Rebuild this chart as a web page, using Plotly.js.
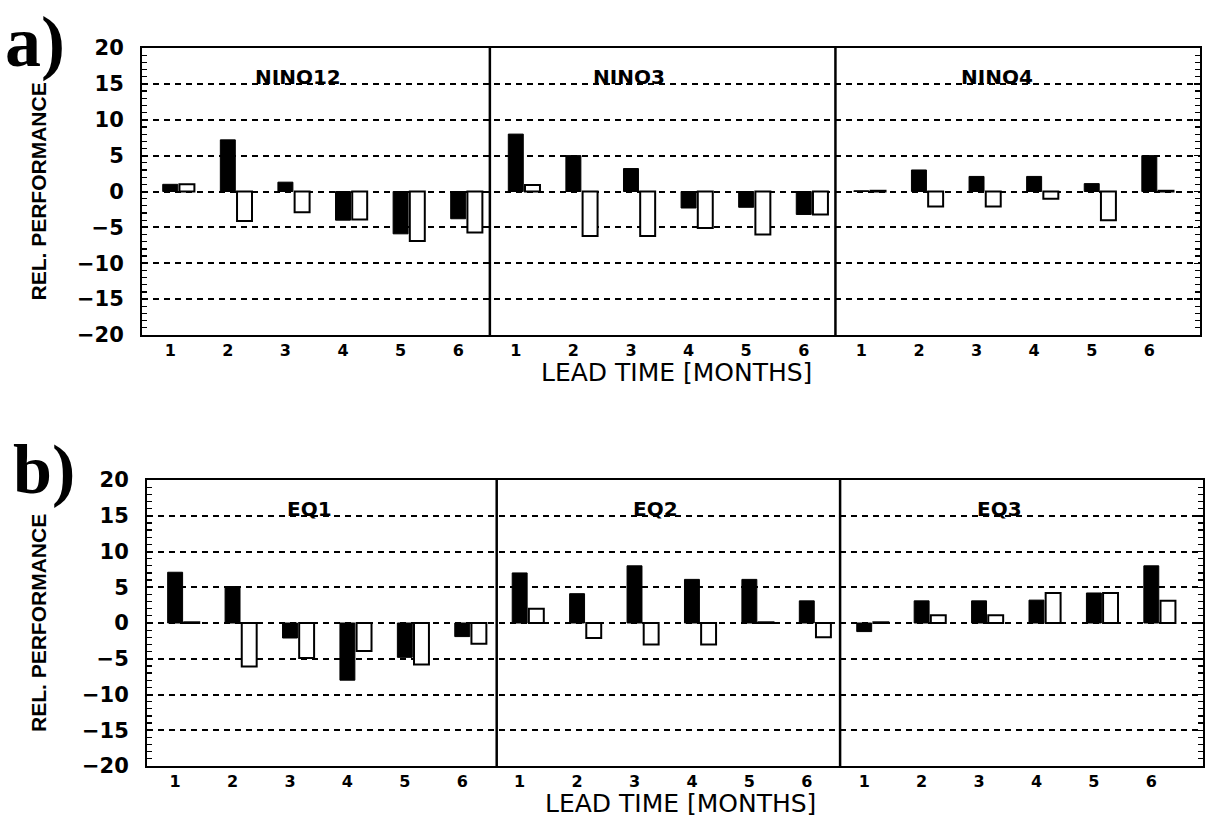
<!DOCTYPE html>
<html><head><meta charset="utf-8">
<script src="https://cdn.plot.ly/plotly-3.0.1.min.js"></script>
<style>html,body{margin:0;padding:0;background:#fff;}#chart{width:1208px;height:817px;}</style>
</head><body><div id="chart"></div>
<script>
// ---- data ----
const leadLabels = ['1', '2', '3', '4', '5', '6'];
const regionsA = ['NINO12', 'NINO3', 'NINO4'];
const regionsB = ['EQ1', 'EQ2', 'EQ3'];

// panel a) relative performance, filled (black) and open (white) bars
const filledNINO12 = [1.0, 7.2, 1.3, -4.0, -5.9, -3.8];
const openNINO12   = [1.0, -4.1, -2.9, -3.9, -6.9, -5.7];
const filledNINO3  = [8.0, 5.0, 3.2, -2.3, -2.2, -3.2];
const openNINO3    = [0.9, -6.2, -6.2, -5.1, -6.0, -3.2];
const filledNINO4  = [0.1, 3.0, 2.1, 2.1, 1.1, 5.0];
const openNINO4    = [0.1, -2.1, -2.1, -1.0, -4.0, 0.1];

// panel b)
const filledEQ1 = [7.1, 5.1, -2.1, -8.0, -4.8, -1.9];
const openEQ1   = [0.1, -6.1, -4.9, -3.9, -5.8, -2.9];
const filledEQ2 = [7.0, 4.1, 8.0, 6.1, 6.1, 3.1];
const openEQ2   = [2.0, -2.1, -3.0, -3.0, 0.1, -2.0];
const filledEQ3 = [-1.2, 3.1, 3.1, 3.2, 4.2, 8.0];
const openEQ3   = [0.1, 1.1, 1.1, 4.2, 4.2, 3.1];

const yTickVals = [-20, -15, -10, -5, 0, 5, 10, 15, 20];

// ---- build ----
const W = 1208, H = 817;
const px = v => v / W;
const py = v => 1 - v / H;

const nRegions = 3;
const xPos = [];
const xText = [];
for (let r = 0; r < nRegions; r++) {
  leadLabels.forEach((lab, i) => { xPos.push(r * leadLabels.length + i + 1); xText.push(lab); });
}

function barTrace(values, filled, xa, ya) {
  return {
    type: 'bar', x: xPos, y: values, xaxis: xa, yaxis: ya,
    width: 0.26, offset: filled ? -0.13 : 0.16,
    marker: {
      color: filled ? '#000' : '#fff',
      line: { color: '#000', width: filled ? 1 : 2 }
    },
    hoverinfo: 'x+y', showlegend: false
  };
}

const data = [
  barTrace([].concat(filledNINO12, filledNINO3, filledNINO4), true, 'x', 'y'),
  barTrace([].concat(openNINO12, openNINO3, openNINO4), false, 'x', 'y'),
  barTrace([].concat(filledEQ1, filledEQ2, filledEQ3), true, 'x2', 'y2'),
  barTrace([].concat(openEQ1, openEQ2, openEQ3), false, 'x2', 'y2')
];

const boldTick = { family: 'DejaVu Sans', size: 16, color: '#000', weight: 700 };
const boldY = { family: 'DejaVu Sans', size: 21, color: '#000', weight: 700 };

function xAxis(domain, anchor, range) {
  return {
    domain: domain, anchor: anchor, range: range,
    tickmode: 'array', tickvals: xPos, ticktext: xText,
    ticks: '', showgrid: false, zeroline: false,
    showline: true, linecolor: '#000', linewidth: 2, mirror: true,
    tickfont: boldTick, ticklabelstandoff: 0, fixedrange: true
  };
}
function yAxis(domain, anchor) {
  return {
    domain: domain, anchor: anchor, range: [-20, 20],
    tickmode: 'array', tickvals: yTickVals,
    ticks: 'inside', ticklen: 6, tickwidth: 1.5, tickcolor: '#000',
    minor: { dtick: 1, tick0: 0, ticks: 'inside', ticklen: 5, tickwidth: 1.2, tickcolor: '#000', showgrid: false },
    showline: true, linecolor: '#000', linewidth: 2, mirror: 'allticks',
    showgrid: true, gridcolor: '#000', gridwidth: 2, griddash: '6px,5px',
    zeroline: false, tickfont: boldY, ticklabelstandoff: 12, fixedrange: true
  };
}

const aTop = 48, aBot = 335, bTop = 480, bBot = 766;

const layout = {
  width: W, height: H,
  margin: { l: 0, r: 0, t: 0, b: 0 },
  paper_bgcolor: '#fff', plot_bgcolor: '#fff',
  showlegend: false, barmode: 'overlay',
  xaxis: xAxis([px(142), px(1200)], 'y', [0.51, 18.88]),
  yaxis: yAxis([py(aBot), py(aTop)], 'x'),
  xaxis2: xAxis([px(147), px(1203)], 'y2', [0.51, 18.9]),
  yaxis2: yAxis([py(bBot), py(bTop)], 'x2'),
  shapes: [6.55, 12.55].map(v => ({
    type: 'line', xref: 'x', yref: 'y domain', x0: v, x1: v, y0: 0, y1: 1,
    line: { color: '#000', width: 2.5 }
  })).concat([6.6, 12.58].map(v => ({
    type: 'line', xref: 'x2', yref: 'y2 domain', x0: v, x1: v, y0: 0, y1: 1,
    line: { color: '#000', width: 2.5 }
  }))),
  annotations: []
};

const ann = layout.annotations;
const serifBig = s => ({ family: 'Liberation Serif', size: s, color: '#000', weight: 700 });
ann.push({ text: 'a)', xref: 'paper', yref: 'paper', x: px(4), y: py(42), xanchor: 'left', yanchor: 'middle', showarrow: false, font: serifBig(72), borderpad: 0 });
ann.push({ text: 'b)', xref: 'paper', yref: 'paper', x: px(12), y: py(470), xanchor: 'left', yanchor: 'middle', showarrow: false, font: serifBig(70), borderpad: 0 });

const yTitleFont = { family: 'Liberation Sans', size: 21, color: '#000', weight: 700 };
[[aTop, aBot], [bTop, bBot]].forEach(([t, b]) => {
  ann.push({ text: 'REL. PERFORMANCE', textangle: -90, xref: 'paper', yref: 'paper', x: px(38), y: py((t + b) / 2), xanchor: 'center', yanchor: 'middle', showarrow: false, font: yTitleFont });
});

const xTitleFont = { family: 'DejaVu Sans', size: 25, color: '#000' };
ann.push({ text: 'LEAD TIME [MONTHS]', xref: 'paper', yref: 'paper', x: px(676), y: py(372), xanchor: 'center', yanchor: 'middle', showarrow: false, font: xTitleFont, borderpad: 0 });
ann.push({ text: 'LEAD TIME [MONTHS]', xref: 'paper', yref: 'paper', x: px(680), y: py(803), xanchor: 'center', yanchor: 'middle', showarrow: false, font: xTitleFont, borderpad: 0 });

const subFont = { family: 'DejaVu Sans', size: 20, color: '#000', weight: 700 };
const subXA = [298, 629, 997], subXB = [309, 655, 999];
regionsA.forEach((name, i) => ann.push({ text: name, xref: 'paper', yref: 'paper', x: px(subXA[i]), y: py(77), xanchor: 'center', yanchor: 'middle', showarrow: false, font: subFont }));
regionsB.forEach((name, i) => ann.push({ text: name, xref: 'paper', yref: 'paper', x: px(subXB[i]), y: py(509), xanchor: 'center', yanchor: 'middle', showarrow: false, font: subFont }));

Plotly.newPlot('chart', data, layout, { displayModeBar: false, staticPlot: true });
</script>
</body></html>
